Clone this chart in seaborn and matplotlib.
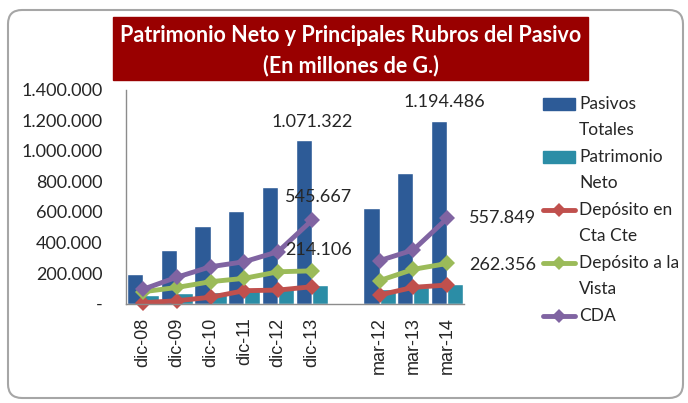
import matplotlib
matplotlib.use("Agg")
import matplotlib.pyplot as plt
import pandas as pd
import seaborn as sns
from matplotlib.patches import Rectangle, FancyBboxPatch
from matplotlib.lines import Line2D
from matplotlib.transforms import IdentityTransform

# datos (millones de G.)
categorias = ['dic-08', 'dic-09', 'dic-10', 'dic-11', 'dic-12', 'dic-13',
              'mar-12', 'mar-13', 'mar-14']
pasivos_totales = [193000, 351000, 508000, 607000, 764000, 1071322,
                   626000, 856000, 1194486]
patrimonio_neto = [56000, 67000, 78000, 88000, 108000, 121000,
                   93000, 110000, 128000]
deposito_cta_cte = [5000, 18000, 41000, 84000, 88000, 110000,
                    56000, 106000, 121000]
deposito_vista = [77000, 105000, 143000, 165000, 208000, 214106,
                  150000, 224000, 262356]
cda = [93000, 172000, 241000, 274000, 340000, 545667,
       281000, 351000, 557849]
periodo = ['dic'] * 6 + ['mar'] * 3

# hueco entre las dos series de fechas
orden = categorias[:6] + [' '] + categorias[6:]

def fmt(v):
    return f"{v:,.0f}".replace(',', '.')

sns.set_style('white')
plt.rcParams['font.family'] = ['Lato', 'DejaVu Sans']

fig = plt.figure(figsize=(6.88, 4.03), dpi=100)
ax = fig.add_axes([126 / 688, 1 - 303.5 / 403, 338 / 688, 213.5 / 403])

barras = pd.DataFrame({
    'cat': categorias * 2,
    'valor': pasivos_totales + patrimonio_neto,
    'serie': ['Pasivos Totales'] * 9 + ['Patrimonio Neto'] * 9,
})
col_barras = {'Pasivos Totales': '#2D5B97', 'Patrimonio Neto': '#2B8DA6'}
sns.barplot(data=barras, x='cat', y='valor', hue='serie', order=orden,
            hue_order=list(col_barras), palette=col_barras, width=0.95,
            saturation=1, legend=False, ax=ax)

pos = [orden.index(c) for c in categorias]
lineas = pd.DataFrame({
    'pos': pos * 3,
    'valor': deposito_cta_cte + deposito_vista + cda,
    'serie': ['Cta Cte'] * 9 + ['Vista'] * 9 + ['CDA'] * 9,
    'tramo': periodo * 3,
})
col_lineas = {'Cta Cte': '#C0504D', 'Vista': '#9BBB59', 'CDA': '#8064A2'}
sns.lineplot(data=lineas, x='pos', y='valor', hue='serie', units='tramo',
             estimator=None, sort=False, palette=col_lineas, marker='D',
             markersize=8, markeredgewidth=0, linewidth=3.5, legend=False,
             clip_on=False, ax=ax)

ax.set_xlim(-0.5, len(orden) - 0.5)
ax.set_ylim(0, 1400000)
ax.set_yticks(range(0, 1400001, 200000))
ax.set_yticklabels(['-'] + [fmt(v) for v in range(200000, 1400001, 200000)],
                   fontsize=13)
ax.set_xticks(range(len(orden)))
ax.set_xticklabels([c.strip() for c in orden], rotation=90, fontsize=13,
                   family=['Liberation Sans', 'DejaVu Sans'])
ax.tick_params(axis='y', length=0, pad=17)
ax.tick_params(axis='x', length=0, pad=10)
ax.set_xlabel('')
ax.set_ylabel('')
sns.despine(ax=ax)
for s in ['left', 'bottom']:
    ax.spines[s].set_color('#8C8C8C')
    ax.spines[s].set_linewidth(1)

# etiquetas de datos
i13 = categorias.index('dic-13')
i14 = categorias.index('mar-14')
kw = dict(textcoords='offset points', fontsize=13, va='center')
ax.annotate(fmt(pasivos_totales[i13]), (pos[i13], pasivos_totales[i13]),
            xytext=(0, 13), ha='center', **kw)
ax.annotate(fmt(pasivos_totales[i14]), (pos[i14], pasivos_totales[i14]),
            xytext=(-2, 14), ha='center', **kw)
ax.annotate(fmt(cda[i13]), (pos[i13], cda[i13]), xytext=(5, 17),
            ha='center', **kw)
ax.annotate(fmt(deposito_vista[i13]), (pos[i13], deposito_vista[i13]),
            xytext=(5, 15), ha='center', **kw)
ax.annotate(fmt(cda[i14]), (pos[i14], cda[i14]), xytext=(16, 0),
            ha='left', **kw)
ax.annotate(fmt(deposito_vista[i14]), (pos[i14], deposito_vista[i14]),
            xytext=(16, -1), ha='left', **kw)

# marco exterior
fig.add_artist(FancyBboxPatch((8, 5), 675, 388,
                              boxstyle='round,pad=0,rounding_size=14',
                              transform=IdentityTransform(), fill=False,
                              edgecolor='#A6A6A6', linewidth=1.5))

# titulo
fig.add_artist(Rectangle((113 / 688, 1 - 80 / 403), 475 / 688, 63 / 403,
                         transform=fig.transFigure, color='#990000'))
fig.text(351 / 688, 1 - 36 / 403, 'Patrimonio Neto y Principales Rubros del Pasivo',
         color='white', fontsize=15.5, fontweight='bold', ha='center', va='center')
fig.text(351 / 688, 1 - 66 / 403, '(En millones de G.)',
         color='white', fontsize=15.5, fontweight='bold', ha='center', va='center')

# leyenda
leyenda = [
    ('bar', col_barras['Pasivos Totales'], ['Pasivos', 'Totales']),
    ('bar', col_barras['Patrimonio Neto'], ['Patrimonio', 'Neto']),
    ('line', col_lineas['Cta Cte'], ['Depósito en', 'Cta Cte']),
    ('line', col_lineas['Vista'], ['Depósito a la', 'Vista']),
    ('line', col_lineas['CDA'], ['CDA']),
]
y = 104
for tipo, color, textos in leyenda:
    fy = 1 - y / 403
    if tipo == 'bar':
        fig.add_artist(Rectangle((543 / 688, fy - 6 / 403), 32 / 688, 12 / 403,
                                 transform=fig.transFigure, color=color))
    else:
        fig.add_artist(Line2D([543 / 688, 575 / 688], [fy, fy],
                              transform=fig.transFigure, color=color,
                              linewidth=3.5))
        fig.add_artist(Line2D([559 / 688], [fy], transform=fig.transFigure,
                              color=color, marker='D', markersize=7,
                              markeredgewidth=0))
    for k, t in enumerate(textos):
        fig.text(579 / 688, 1 - (y + 26 * k) / 403, t, fontsize=12.5,
                 ha='left', va='center')
    y += 26 * len(textos) + 1 if len(textos) > 1 else 26

fig.savefig('out.png', dpi=100)
